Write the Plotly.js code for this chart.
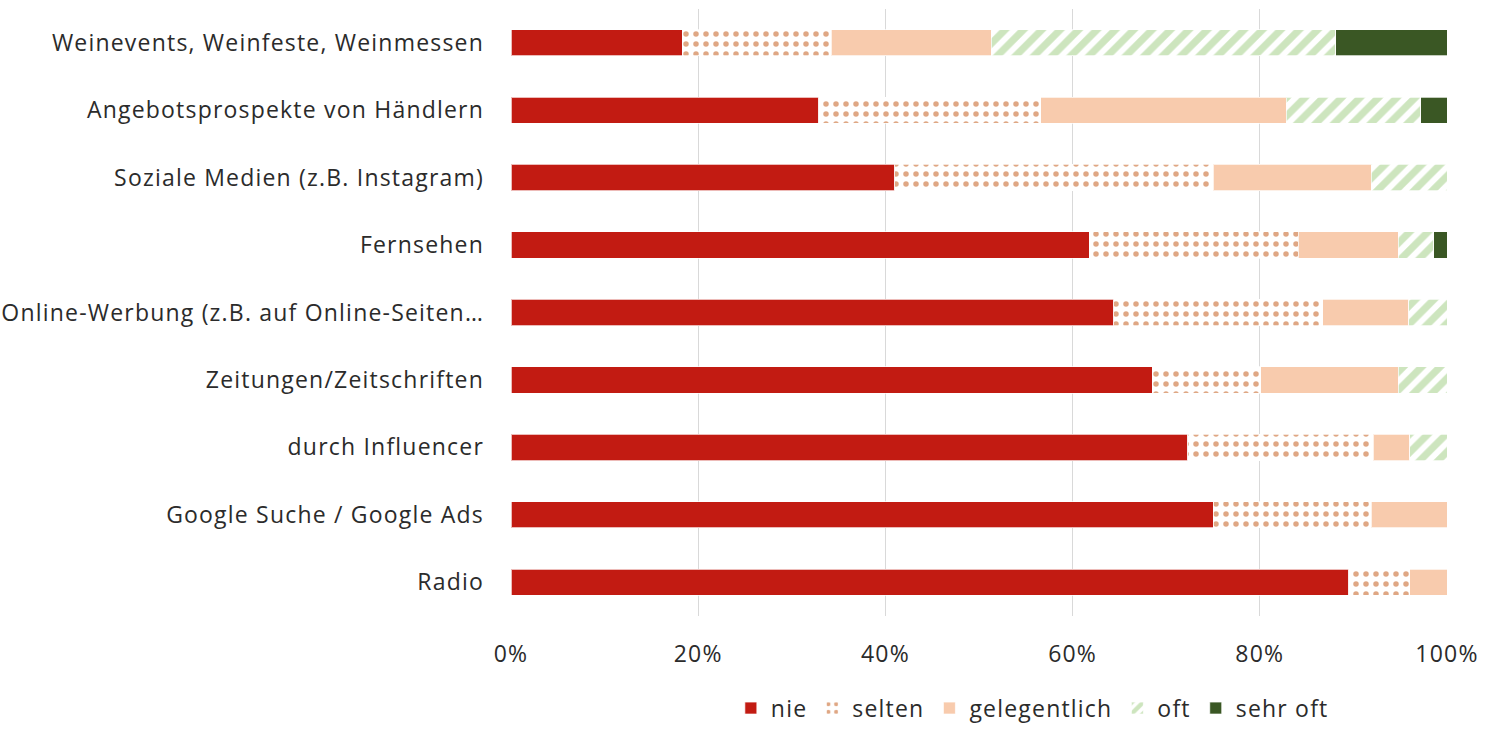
<!DOCTYPE html>
<html><head><meta charset="utf-8">
<script src="https://cdn.plot.ly/plotly-3.0.1.min.js"></script>
<style>html,body{margin:0;padding:0;background:#fff;}#chart{width:1501px;height:730px;}
svg text{letter-spacing:1.2px;}</style>
</head><body><div id="chart"></div>
<script>
const categories = [
  "Weinevents, Weinfeste, Weinmessen",
  "Angebotsprospekte von Händlern",
  "Soziale Medien (z.B. Instagram)",
  "Fernsehen",
  "Online-Werbung (z.B. auf Online-Seiten…",
  "Zeitungen/Zeitschriften",
  "durch Influencer",
  "Google Suche / Google Ads",
  "Radio"
];
const nie          = [18.3, 32.9, 41.0, 61.8, 64.4, 68.5, 72.3, 75.0, 89.5];
const selten       = [15.9, 23.7, 34.0, 22.3, 22.3, 11.6, 19.8, 16.9, 6.5];
const gelegentlich = [17.1, 26.2, 16.9, 10.7, 9.2, 14.7, 3.9, 8.1, 4.0];
const oft          = [36.8, 14.4, 8.1, 3.8, 4.1, 5.2, 4.0, 0, 0];
const sehrOft      = [11.9, 2.8, 0, 1.4, 0, 0, 0, 0, 0];
const seriesNames  = ["nie", "selten", "gelegentlich", "oft", "sehr oft"];
const tickVals = [0, 20, 40, 60, 80, 100];
const tickText = ["0%", "20%", "40%", "60%", "80%", "100%"];

const FONT = "'Open Sans', sans-serif";
const TXT = "#2B2B2B";
const lineStyle = {color: "rgba(255,255,255,0.7)", width: 1};
const mk = (name, x, marker) => ({
  type: "bar", orientation: "h", name: name, x: x, y: categories,
  marker: Object.assign({line: lineStyle}, marker), hoverinfo: "x+y+name"
});
const data = [
  mk(seriesNames[0], nie, {color: "#C21B12"}),
  mk(seriesNames[1], selten, {color: "#FFFFFF", pattern: {shape: ".", fgcolor: "#C0500A", bgcolor: "#FFFFFF", size: 10, solidity: 0.24, fillmode: "overlay"}}),
  mk(seriesNames[2], gelegentlich, {color: "#F8CBAD"}),
  mk(seriesNames[3], oft, {color: "#FFFFFF", pattern: {shape: "/", fgcolor: "#9CCB7E", bgcolor: "#FFFFFF", size: 13, solidity: 0.55, fillmode: "overlay"}}),
  mk(seriesNames[4], sehrOft, {color: "#3A5724"})
];
const layout = {
  width: 1501, height: 730,
  margin: {l: 511, r: 54, t: 9, b: 114, autoexpand: false},
  barmode: "stack", bargap: 0.61,
  paper_bgcolor: "#fff", plot_bgcolor: "#fff",
  font: {family: FONT, size: 23, color: TXT},
  xaxis: {range: [0, 100], tickvals: tickVals, ticktext: tickText, showgrid: true,
          gridcolor: "#D9D9D9", gridwidth: 1, zeroline: false, showline: false,
          ticks: "", ticklabelstandoff: 22, tickfont: {size: 23, color: TXT}, fixedrange: true},
  yaxis: {autorange: "reversed", showgrid: false, zeroline: false, showline: false, ticks: "",
          ticklabelstandoff: 26, tickfont: {size: 23, color: TXT}, fixedrange: true},
  legend: {orientation: "h", x: 0.557, xanchor: "center", yref: "container", y: 0.03, yanchor: "middle",
           font: {size: 23, color: TXT}, traceorder: "normal", itemwidth: 30},
  showlegend: true
};
Plotly.newPlot("chart", data, layout, {displayModeBar: false, staticPlot: true});
</script></body></html>
